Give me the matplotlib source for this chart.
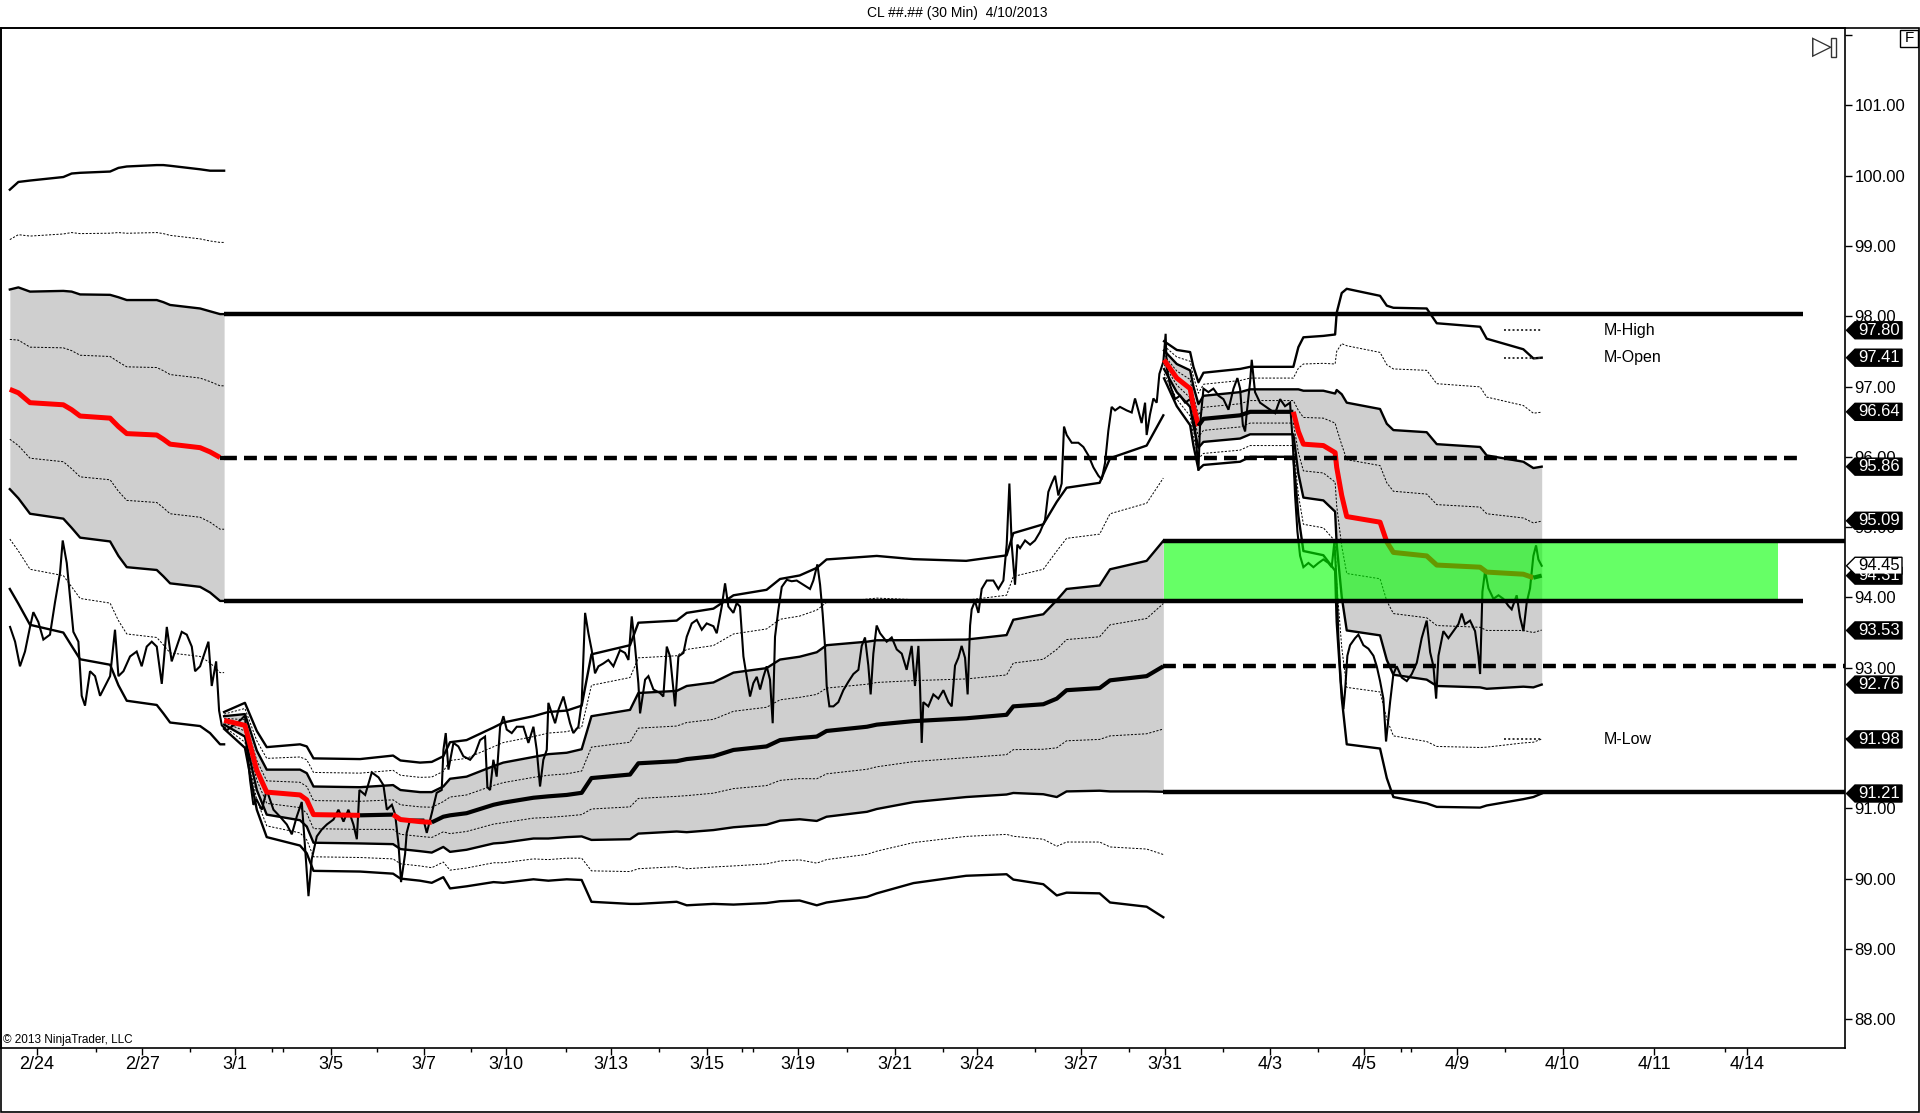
import numpy as np
import matplotlib
matplotlib.use("Agg")
import matplotlib.pyplot as plt
from matplotlib.patches import Polygon, Rectangle

# ---------------- data ----------------
title = "CL ##.## (30 Min)  4/10/2013"
date_labels = ["2/24", "2/27", "3/1", "3/5", "3/7", "3/10", "3/13", "3/15", "3/19", "3/21",
               "3/24", "3/27", "3/31", "4/3", "4/5", "4/9", "4/10", "4/11", "4/14"]
date_pos = [30, 116, 192, 270, 346, 413, 499, 577, 652, 731,
            798, 883, 951, 1037, 1114, 1190, 1276, 1351, 1427]
minor_pos = [78, 155, 222, 231, 308, 385, 462, 538, 606, 615, 692, 770,
             845, 922, 999, 1076, 1144, 1152, 1229, 1409]
price_ticks = list(range(88, 103))

price_x = [8.2, 12.3, 16.3, 20.4, 24.5, 27.2, 31.3, 35.4, 40.8, 44.9, 49.0, 51.2, 54.5, 57.2, 59.9,
           64.0, 66.7, 69.4, 73.5, 77.6, 81.7, 85.8, 89.9, 93.9, 96.7, 100.8, 106.2, 111.6, 115.7,
           119.8, 123.9, 128.0, 132.1, 136.2, 140.2, 144.3, 148.4, 152.5, 156.6, 159.3, 163.4,
           167.5, 170.2, 172.9, 176.5, 178.9, 181.1, 185.2, 190.6, 196.1, 200.1, 201.5, 204.2,
           206.9, 209.7, 213.8, 217.8, 223.3, 228.7, 234.2, 238.3, 242.3, 246.4, 249.2, 251.9,
           254.6, 258.7, 262.8, 266.9, 272.3, 276.4, 280.5, 284.5, 288.6, 291.4, 293.5, 298.2,
           303.6, 309.1, 313.1, 315.9, 320.0, 322.7, 325.4, 327.5, 330.8, 332.1, 334.9, 340.3,
           345.8, 348.5, 352.6, 356.6, 360.7, 362.1, 364.0, 366.2, 370.3, 374.3, 378.4, 383.9,
           388.0, 392.0, 396.1, 398.0, 400.2, 402.9, 405.6, 408.4, 411.1, 413.8, 417.9, 422.0,
           427.4, 431.5, 435.6, 438.3, 441.0, 443.7, 446.5, 447.8, 450.6, 453.3, 456.0, 460.1,
           462.8, 465.5, 468.2, 472.3, 475.0, 477.8, 480.5, 483.2, 485.9, 488.7, 492.7, 496.8,
           500.9, 506.3, 510.4, 513.2, 515.9, 518.6, 521.3, 522.7, 526.8, 529.5, 533.6, 539.0,
           541.7, 544.5, 547.2, 551.3, 554.0, 558.1, 560.8, 564.9, 569.0, 573.1, 577.1, 582.6,
           585.3, 589.4, 592.1, 594.8, 598.9, 601.6, 604.3, 607.1, 609.8, 612.5, 615.2, 618.0,
           620.7, 623.4, 626.1, 628.8, 631.0, 632.9, 635.6, 638.4, 642.5, 646.5, 650.6, 656.0,
           661.5, 664.2, 667.5, 669.7, 671.8, 673.7, 675.1, 677.3, 680.6, 684.6, 688.7, 692.8,
           696.9, 701.0, 703.7, 706.4, 709.1, 711.0, 713.2, 715.9, 718.7, 724.1, 728.2, 732.3,
           736.4, 740.4, 744.5, 747.2, 750.0, 751.3, 752.7, 754.0, 758.1, 762.2, 766.3, 770.4,
           774.5, 777.2, 779.9, 782.6, 785.3, 788.1, 790.2, 792.2, 793.5, 796.2, 799.0, 801.7,
           805.8, 811.2, 815.3, 819.4, 822.1, 824.3, 826.2, 828.9, 830.8, 833.0, 837.1, 841.2,
           845.2, 849.3, 853.4, 856.1, 858.8, 861.6, 864.3, 867.0, 868.9, 871.1, 875.2, 880.6,
           884.7, 888.8, 892.9, 897.0, 899.7, 902.4, 905.1, 907.8, 910.6, 914.6, 920.1, 924.2,
           926.9, 929.6, 932.3, 935.1, 936.4, 939.1, 941.9, 944.6, 946.8, 950.0, 951.9, 952.8,
           955.5, 959.6, 963.7, 967.8, 971.9, 974.6, 977.3, 978.7, 980.0, 982.8, 986.8, 990.9,
           995.0, 999.1, 1003.2, 1007.3, 1010.5, 1012.7, 1014.9, 1016.8, 1018.1, 1020.9, 1022.2,
           1024.9, 1029.0, 1033.1, 1037.2, 1041.3, 1045.4, 1049.4, 1053.5, 1055.7, 1057.6, 1059.5,
           1061.7, 1064.4, 1068.5, 1072.6, 1076.7, 1080.7, 1084.8, 1087.5, 1089.7, 1091.6, 1093.0,
           1094.9, 1097.1, 1098.4, 1100.3, 1102.5, 1106.6, 1109.3, 1113.4, 1117.5, 1121.6, 1124.3,
           1127.0, 1129.7, 1131.9, 1135.2, 1137.9, 1140.6, 1144.7, 1148.8, 1152.9, 1157.0, 1161.0,
           1165.1, 1167.9, 1170.6, 1172.8, 1174.7, 1178.7, 1182.8, 1186.9, 1191.0, 1193.7, 1196.4,
           1200.5, 1204.6, 1207.3, 1208.7, 1210.6, 1212.8, 1215.5, 1219.6, 1223.7, 1227.7, 1231.8,
           1234.5, 1238.6, 1241.3, 1244.1, 1246.8, 1249.5, 1252.2, 1254.4, 1256.3, 1259.0]
price_y = [93.58, 93.37, 93.02, 93.23, 93.58, 93.79, 93.65, 93.40, 93.47, 93.93, 94.35, 94.81, 94.49,
           94.00, 93.51, 93.37, 92.60, 92.46, 92.95, 92.88, 92.60, 92.74, 92.88, 93.54, 92.88, 92.95,
           93.16, 93.23, 93.02, 93.30, 93.37, 93.30, 92.77, 93.58, 93.09, 93.30, 93.51, 93.47, 93.30,
           92.95, 93.02, 93.23, 93.37, 92.74, 93.09, 92.39, 92.18, 92.11, 92.18, 92.25, 92.32, 91.90,
           91.40, 91.05, 91.12, 90.98, 91.26, 90.98, 90.88, 90.77, 90.63, 90.88, 91.09, 90.42, 89.75,
           90.28, 90.60, 90.70, 90.77, 90.84, 90.98, 90.81, 90.98, 90.77, 90.56, 91.26, 91.19, 91.51,
           91.44, 91.33, 90.98, 91.05, 90.91, 90.49, 89.95, 90.35, 90.65, 90.84, 90.84, 90.84, 90.65,
           90.93, 91.22, 91.26, 91.83, 92.07, 91.55, 91.93, 91.88, 91.74, 91.69, 91.78, 91.97, 92.02,
           91.30, 91.26, 91.69, 91.45, 92.16, 92.31, 92.12, 92.07, 92.16, 92.16, 91.93, 92.16, 91.83,
           91.31, 91.69, 91.83, 92.50, 92.35, 92.21, 92.40, 92.59, 92.40, 92.21, 92.07, 92.16, 92.50,
           93.78, 93.49, 93.25, 92.92, 93.02, 93.06, 93.11, 93.02, 93.25, 93.21, 93.11, 93.73, 93.30,
           92.78, 92.35, 92.83, 92.88, 92.69, 92.64, 92.59, 93.30, 93.16, 92.45, 93.16, 93.21, 93.44,
           93.63, 93.68, 93.54, 93.63, 93.59, 93.49, 93.87, 94.20, 93.87, 93.78, 93.92, 93.87, 93.16,
           92.87, 92.59, 92.78, 92.87, 92.69, 92.87, 93.02, 92.83, 92.21, 93.44, 93.82, 94.15, 94.25,
           94.23, 94.24, 94.18, 94.12, 94.24, 94.47, 94.18, 93.77, 93.31, 92.74, 92.45, 92.45, 92.51,
           92.68, 92.80, 92.91, 92.97, 93.31, 93.43, 93.03, 92.62, 93.20, 93.60, 93.49, 93.37, 93.43,
           93.26, 93.20, 92.97, 93.31, 92.74, 93.31, 92.74, 91.93, 92.51, 92.45, 92.62, 92.56, 92.68,
           92.51, 92.45, 93.03, 93.14, 93.31, 93.14, 92.62, 93.60, 93.83, 93.95, 93.78, 94.12, 94.24,
           94.24, 94.12, 94.24, 94.75, 95.62, 94.75, 94.18, 94.75, 94.70, 94.81, 94.75, 94.81, 94.93,
           95.10, 95.50, 95.62, 95.73, 95.45, 95.62, 96.43, 96.31, 96.20, 96.20, 96.14, 96.02, 95.85,
           95.73, 95.68, 95.91, 96.37, 96.71, 96.66, 96.71, 96.66, 96.63, 96.83, 96.66, 96.48, 96.77,
           96.31, 96.60, 96.83, 96.77, 97.18, 97.35, 97.75, 97.27, 97.02, 96.82, 96.87, 96.77, 96.82,
           96.67, 96.11, 95.80, 96.46, 96.97, 96.92, 96.97, 96.87, 96.82, 96.67, 96.97, 97.12, 96.97,
           96.46, 96.36, 96.62, 97.07, 97.38, 96.92, 96.77, 96.72, 96.67, 96.62, 96.82, 96.72, 96.77,
           96.21, 95.45, 94.94, 94.59, 94.43, 94.49, 94.43, 94.49, 94.54, 94.49, 94.43, 94.79, 94.18,
           93.42, 92.81, 92.41, 92.66, 93.17, 93.32, 93.42, 93.47, 93.32, 93.27, 93.17, 93.02, 92.81,
           92.56, 91.95, 92.51, 92.91, 93.02, 92.86, 92.81, 92.91, 93.07, 93.42, 93.67, 93.22, 93.02,
           92.56, 93.17, 93.52, 93.42, 93.52, 93.62, 93.77, 93.62, 93.67, 93.52, 93.17, 92.91, 94.08,
           94.38, 94.13, 93.98, 94.03, 93.98, 93.88, 93.83, 94.03, 93.72, 93.52, 93.93, 94.13, 94.59,
           94.74, 94.54, 94.45]

# VWAP and standard-deviation width for each of the three anchored periods
p1_x = [8, 15, 24.5, 51.7, 58.5, 65.4, 89.9, 96.7, 103.5, 128, 133.4, 138.9, 163.4, 171.5, 179.7, 183]
p1_vwap = [96.96, 96.91, 96.77, 96.74, 96.67, 96.58, 96.55, 96.43, 96.33, 96.31, 96.25, 96.18,
           96.13, 96.07, 95.99, 95.99]
p1_sigma = [0.71, 0.75, 0.79, 0.81, 0.84, 0.865, 0.877, 0.92, 0.95, 0.96, 0.975, 0.99, 0.99,
            1.0, 1.02, 1.02]

p2_x = [183, 200, 209.7, 217.8, 245, 250.5, 256, 294, 321, 327, 343, 352.6, 362, 367.5, 381, 403,
        411, 435.6, 447.8, 462.8, 475, 483, 514.5, 521.3, 552.6, 560.8, 582.6, 599, 626, 637, 653,
        667, 675, 708, 716, 746, 789, 822, 827.5, 852, 863, 871, 898, 906.5, 936.4, 950]
p2_vwap = [92.25, 92.18, 91.54, 91.23, 91.19, 91.12, 90.91, 90.90, 90.91, 90.84, 90.81, 90.80,
           90.88, 90.90, 90.93, 91.05, 91.08, 91.15, 91.17, 91.19, 91.22, 91.43, 91.48, 91.64,
           91.67, 91.70, 91.74, 91.83, 91.88, 91.97, 92.00, 92.02, 92.10, 92.16, 92.19, 92.24,
           92.28, 92.33, 92.45, 92.48, 92.56, 92.68, 92.71, 92.82, 92.88, 93.02]
p2_sigma = [0.03, 0.08, 0.14, 0.16, 0.18, 0.19, 0.20, 0.20, 0.21, 0.21, 0.21, 0.215, 0.215, 0.26,
            0.26, 0.275, 0.285, 0.29, 0.30, 0.30, 0.31, 0.44, 0.46, 0.50, 0.50, 0.52, 0.525, 0.55,
            0.557, 0.573, 0.578, 0.60, 0.61, 0.605, 0.60, 0.576, 0.56, 0.567, 0.616, 0.64, 0.70,
            0.72, 0.73, 0.79, 0.82, 0.8925]

p3_x = [950.6, 961, 971.9, 974.6, 978.7, 982.8, 1012.7, 1020.9, 1056.2, 1060.3, 1064.4, 1080.7,
        1090.3, 1091.6, 1095.7, 1099.8, 1127, 1132.5, 1137.9, 1165.1, 1173.3, 1208.7, 1214.1,
        1244, 1252.2, 1259]
p3_vwap = [97.38, 97.12, 96.97, 96.72, 96.44, 96.54, 96.59, 96.64, 96.64, 96.36, 96.18, 96.16,
           96.06, 95.85, 95.45, 95.15, 95.07, 94.79, 94.64, 94.59, 94.46, 94.43, 94.36, 94.33,
           94.28, 94.31]
p3_sigma = [0.066, 0.10, 0.13, 0.14, 0.155, 0.164, 0.165, 0.16, 0.16, 0.30, 0.38, 0.39, 0.42,
            0.55, 0.72, 0.81, 0.805, 0.84, 0.87, 0.88, 0.86, 0.855, 0.83, 0.80, 0.78, 0.775]

p1_levels = [98.03, 95.99, 93.95]
p2_levels = [94.805, 93.02, 91.235]
zone_low, zone_high = 93.95, 94.805
market_names = ["M-High", "M-Open", "M-Low"]
market_values = [97.80, 97.41, 91.98]
tag_values = [97.80, 97.41, 96.64, 95.86, 95.09, 94.31, 93.53, 92.76, 91.98, 91.21]
last_price = 94.45

# ---------------- figure ----------------
W, H = 1920, 1113
fig = plt.figure(figsize=(W / 100, H / 100), dpi=100)
fig.patch.set_facecolor("white")
ax_l, ax_r, ax_t, ax_b = 1, 1845, 28, 1048
ax = fig.add_axes([ax_l / W, 1 - ax_b / H, (ax_r - ax_l) / W, (ax_b - ax_t) / H])
ax.set_xlim(0.8, 1506.7)
ax.set_ylim(87.59, 102.10)

GRAY = "#cfcfcf"
SANS = ["Liberation Sans", "DejaVu Sans"]
NARROW = ["Liberation Sans Narrow", "Liberation Sans", "DejaVu Sans"]


def draw_period(x, vwap, sigma):
    x = np.asarray(x, float)
    v = np.asarray(vwap, float)
    s = np.asarray(sigma, float)
    ax.fill_between(x, v - 2 * s, v + 2 * s, color=GRAY, lw=0, zorder=1)
    for k in (1, 3):
        for sg in (1, -1):
            ax.plot(x, v + sg * k * s, color="black", lw=0.7, ls=(0, (2.2, 1.6)), zorder=2)
    for k in (2, 4):
        for sg in (1, -1):
            ax.plot(x, v + sg * k * s, color="black", lw=1.7, zorder=2,
                    solid_joinstyle="round")
    d = np.diff(v)
    cols = np.where(d < 0, "#ff0000", "#000000")
    start = 0
    for i in range(1, len(d) + 1):
        if i == len(d) or cols[i] != cols[start]:
            c = cols[start]
            ax.plot(x[start:i + 1], v[start:i + 1], color=c,
                    lw=3.6 if c == "#ff0000" else 3.0, zorder=4,
                    solid_capstyle="butt", solid_joinstyle="round")
            start = i


for px_, pv_, ps_ in ((p1_x, p1_vwap, p1_sigma), (p2_x, p2_vwap, p2_sigma), (p3_x, p3_vwap, p3_sigma)):
    draw_period(px_, pv_, ps_)

# price
ax.plot(price_x, price_y, color="black", lw=1.5, zorder=3, solid_joinstyle="miter")

# overlap zone
ax.fill_between([p3_x[0], 1452], zone_low, zone_high, color="#00ff00", alpha=0.6, lw=0, zorder=5)

# prior-period levels
dash = (0, (2.9, 1.6))
for val, st in zip(p1_levels, ["-", dash, "-"]):
    ax.plot([p1_x[-1], 1472], [val, val], color="black", lw=3.2, ls=st, zorder=6,
            solid_capstyle="butt", dash_capstyle="butt")
for val, st in zip(p2_levels, ["-", dash, "-"]):
    ax.plot([p2_x[-1], 1506.7], [val, val], color="black", lw=3.2, ls=st, zorder=6,
            solid_capstyle="butt", dash_capstyle="butt")

# market levels
for name, val in zip(market_names, market_values):
    ax.plot([1228, 1259], [val, val], color="#333333", lw=1.4, ls=(0, (1, 1.2)), zorder=6)
    ax.text(1310, val, name, fontsize=11.5, family=SANS, va="center", ha="left", zorder=7)

# axes styling
ax.yaxis.tick_right()
ax.set_yticks(price_ticks)
ax.set_yticklabels([f"{t:.2f}" if t < 102 else "" for t in price_ticks], family=SANS, fontsize=12)
ax.tick_params(axis="y", direction="out", length=5, width=1, pad=2)
ax.set_xticks(date_pos)
ax.set_xticklabels(date_labels, family=NARROW, fontsize=13)
ax.set_xticks(minor_pos, minor=True)
ax.tick_params(axis="x", which="major", direction="out", length=5, width=1, pad=1)
ax.tick_params(axis="x", which="minor", direction="out", length=3, width=1)
for sp in ax.spines.values():
    sp.set_linewidth(1.2)

# price tags on the right
tax = fig.add_axes([ax_r / W, 1 - ax_b / H, (W - ax_r) / W, (ax_b - ax_t) / H], sharey=ax)
tax.set_xlim(0, W - ax_r)
tax.axis("off")
tax.patch.set_visible(False)
hh = 8.5 / 70.3


def tag(val, face, txt):
    poly = Polygon([[1.5, val], [10, val + hh], [57, val + hh], [57, val - hh], [10, val - hh]],
                   closed=True, facecolor=face, edgecolor="black", lw=1, clip_on=False)
    tax.add_patch(poly)
    tax.text(34, val, f"{val:.2f}", color=txt, fontsize=12, family=SANS, ha="center",
             va="center", clip_on=False)


for v in tag_values:
    tag(v, "black", "white")
tag(last_price, "white", "black")

# header / decorations
fig.text(957.5 / W, 1 - 13.5 / H, title, ha="center", va="center", fontsize=10, family=SANS)
fig.text(3 / W, 1 - 1046 / H, "\u00a9 2013 NinjaTrader, LLC", ha="left", va="bottom",
         fontsize=8.5, family=NARROW)
fig.add_artist(Rectangle((1900 / W, 1 - 47 / H), 18 / W, 17 / H, transform=fig.transFigure,
                         fc="white", ec="black", lw=1))
fig.text(1909 / W, 1 - 38.5 / H, "F", ha="center", va="center", fontsize=11, family=SANS)
fig.text(1822 / W, 1 - 47 / H, "\u25b7", ha="center", va="center", fontsize=19,
         family=["DejaVu Sans"], color="#333333")
fig.add_artist(Rectangle((1831 / W, 1 - 57 / H), 5 / W, 19 / H, transform=fig.transFigure,
                         fill=False, ec="#333333", lw=1))
fig.add_artist(Rectangle((0.5 / W, 1 / H), 1918 / W, (H - 28 - 1) / H, transform=fig.transFigure,
                         fill=False, ec="black", lw=1.2))

fig.savefig("out.png", dpi=100, facecolor="white")
